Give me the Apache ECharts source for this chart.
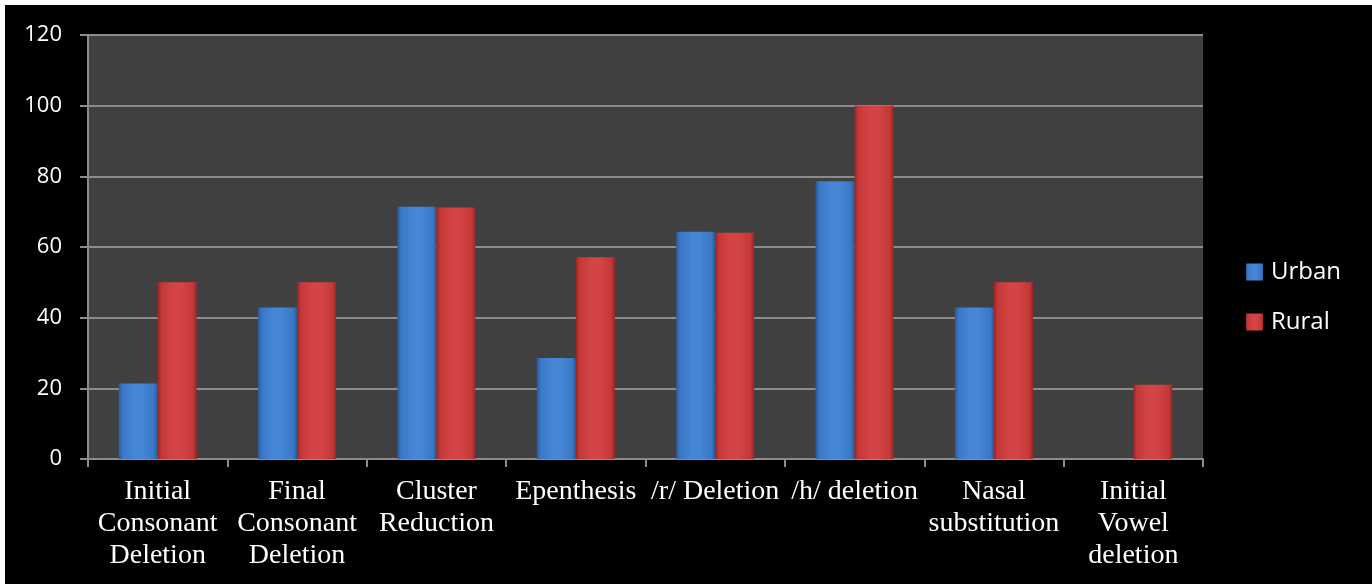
<!DOCTYPE html>
<html><head><meta charset="utf-8">
<script src="https://cdn.jsdelivr.net/npm/echarts@6/dist/echarts.min.js"></script>
<style>html,body{margin:0;padding:0;background:#fff;overflow:hidden;}#c{position:absolute;left:5px;top:5px;width:1367px;height:579px;}</style>
</head><body><div id="c"></div>
<script>
const categories = ["Initial\nConsonant\nDeletion","Final\nConsonant\nDeletion","Cluster\nReduction","Epenthesis","/r/ Deletion","/h/ deletion","Nasal\nsubstitution","Initial\nVowel\ndeletion"];
const urban = [21.4, 42.9, 71.4, 28.6, 64.3, 78.6, 42.9, 0];
const rural = [50, 50, 71.2, 57.1, 64, 100, 50, 21];
const yTicks = {min:0, max:120, interval:20};

function grad(edge, mid, light){
  return new echarts.graphic.LinearGradient(0,0,1,0,[
    {offset:0,color:edge},{offset:0.1,color:mid},{offset:0.4,color:light},{offset:0.6,color:light},{offset:0.9,color:mid},{offset:1,color:edge}]);
}
const chart = echarts.init(document.getElementById('c'));
chart.setOption({
  backgroundColor:'#000',
  animation:false,
  grid:{left:83,right:169,top:30,bottom:125,show:true,backgroundColor:'#404040',borderWidth:0},
  legend:{orient:'vertical',left:1241,top:255,padding:0,itemWidth:17,itemHeight:17,itemGap:26,
    textStyle:{color:'#fff',fontFamily:'Open Sans',fontSize:24,padding:[0,0,0,3]},
    data:[{name:'Urban',icon:'rect'},{name:'Rural',icon:'rect'}]},
  xAxis:{type:'category',data:categories,
    axisLine:{lineStyle:{color:'#8c8c8c',width:2}},
    axisTick:{show:true,length:8,lineStyle:{color:'#8c8c8c',width:2}},
    axisLabel:{color:'#fff',fontFamily:'Liberation Serif',fontSize:28,lineHeight:32,margin:17,interval:0}},
  yAxis:{type:'value',min:yTicks.min,max:yTicks.max,interval:yTicks.interval,
    axisLine:{show:true,lineStyle:{color:'#8c8c8c',width:2}},
    axisTick:{show:true,length:8,lineStyle:{color:'#8c8c8c',width:2}},
    splitLine:{lineStyle:{color:'#8c8c8c',width:2}},
    axisLabel:{color:'#fff',fontFamily:'Open Sans',fontSize:22,margin:26}},
  series:[
    {name:'Urban',type:'bar',data:urban,barWidth:39,barGap:'0%',
      itemStyle:{color:grad('#2a5b9c','#3a78c6','#4686d6')}},
    {name:'Rural',type:'bar',data:rural,barWidth:39,
      itemStyle:{color:grad('#9a2626','#c53838','#d44444')}}
  ]
});
</script></body></html>
